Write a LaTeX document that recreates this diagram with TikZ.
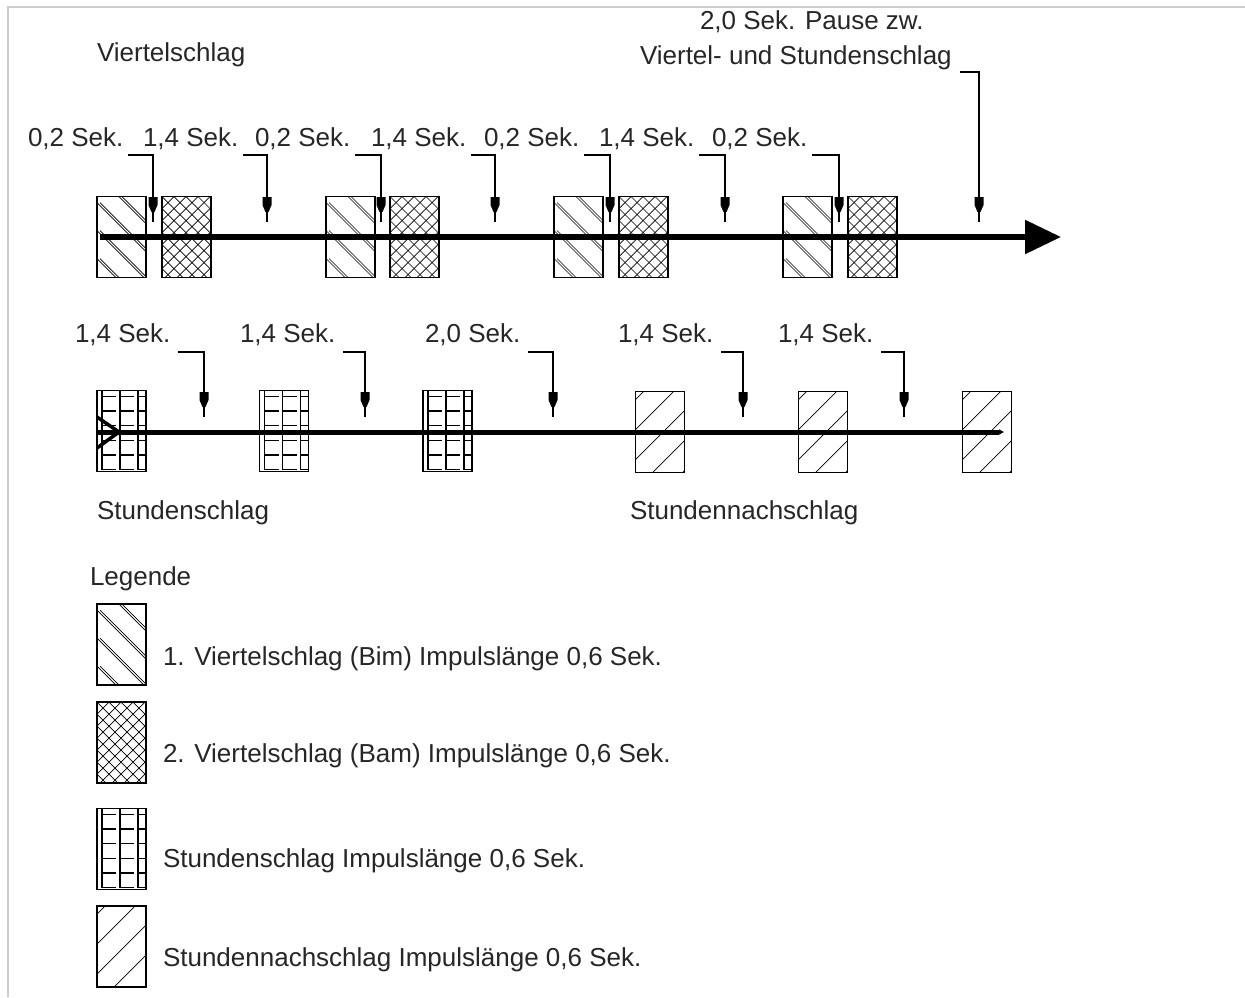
\documentclass[tikz,border=0pt]{standalone}
\usepackage{fontspec}
\setmainfont{Liberation Sans}
\usetikzlibrary{calc,arrows.meta}
\tikzset{
  pulse/.style={draw, line width=1.3pt, minimum width=49pt, minimum height=81pt, inner sep=0pt, outer sep=0pt},
  hl/.style={line width=0.7pt},
  bim/.style={pulse, path picture={
     \foreach \k in {-78,-50,...,90} {
       \draw[hl] ($(path picture bounding box.north west)+(0,\k)$) -- ++(100,100);
       \draw[hl] ($(path picture bounding box.north west)+(3,\k)$) -- ++(100,100);
     }}},
  bam/.style={pulse, path picture={
     \foreach \k in {-96,-84,...,144} {
       \draw[hl] ($(path picture bounding box.north west)+(\k,0)$) -- ++(100,100);
       \draw[hl] ($(path picture bounding box.north west)+(\k,0)$) -- ++(-100,100);
     }}},
  stdb/.style={pulse, path picture={
     \foreach \r in {0,...,5} \foreach \c in {0,1,2} {
       \draw[line width=1.3pt] ($(path picture bounding box.north west)+({5+18*\c},{-8.6+14.6*\r})$) -- ++(0,14.6) -- ++(14,0);
     }}},
  nach/.style={pulse, path picture={
     \foreach \k in {8,38,...,128} {
       \draw[hl] ($(path picture bounding box.north west)+(0,\k)$) -- ++(100,-100);
     }}},
  lab/.style={anchor=base west, inner sep=0pt, outer sep=0pt, font=\fontsize{26}{30}\selectfont, text=black!85},
  lead/.style={line width=1.5pt},
  mk/.pic={\fill (-4.5,-25) -- (4.5,-25) -- (4.5,-17) -- (1.5,-10) -- (-1.5,-10) -- (-4.5,-17) -- cycle;}
}
\begin{document}
\begin{tikzpicture}[x=1pt,y=-1pt]
\useasboundingbox (0,0) rectangle (1245,997);
\draw[black!20, line width=2pt] (8,997) -- (8,7) -- (1245,7);

% row 1 boxes
\node[bim] (bim1) at (121.5,237) {};
\node[bam] (bam1) at (186.5,237) {};
\node[bim] (bim2) at (350.5,237) {};
\node[bam] (bam2) at (414.5,237) {};
\node[bim] (bim3) at (578.5,237) {};
\node[bam] (bam3) at (643.5,237) {};
\node[bim] (bim4) at (807.5,237) {};
\node[bam] (bam4) at (872.5,237) {};

% row 1 axis
\coordinate (s1) at (100,237);
\coordinate (e1) at (1061,237);
\draw[line width=5.5pt, -{Triangle[length=36pt,width=33pt]}] (s1) -- (e1);

% row 2 boxes
\node[stdb] (std1) at (121.5,431) {};
\node[stdb] (std2) at (284,431) {};
\node[stdb] (std3) at (447.5,431) {};
\node[nach] (nach1) at (660,432) {};
\node[nach] (nach2) at (823,432) {};
\node[nach] (nach3) at (987,432) {};

% row 2 axis
\coordinate (s2) at (97,432);
\coordinate (e2) at (1004,432);
\draw[line width=5pt, -{Triangle[length=5pt,width=5pt]}] (s2) -- (e2);
\draw[line width=3.5pt] ($(s2)+(0,-15)$) -- ($(s2)+(22,0)$) -- ($(s2)+(0,16)$);

% row 1 labels and leaders
\node[lab] (q1) at (28,146) {0,2 Sek.};
\node[lab] (q2) at (143,146) {1,4 Sek.};
\node[lab] (q3) at (255,146) {0,2 Sek.};
\node[lab] (q4) at (371,146) {1,4 Sek.};
\node[lab] (q5) at (484,146) {0,2 Sek.};
\node[lab] (q6) at (599,146) {1,4 Sek.};
\node[lab] (q7) at (712,146) {0,2 Sek.};
\coordinate (v1) at (153,222);
\coordinate (v2) at (267,222);
\coordinate (v3) at (381,222);
\coordinate (v4) at (495,222);
\coordinate (v5) at (610,222);
\coordinate (v6) at (725,222);
\coordinate (v7) at (839,222);
\foreach \i in {1,...,7} {
  \draw[lead] ($(q\i.base east)+(5,9)$) -| (v\i);
  \pic at (v\i) {mk};
}
\node[lab] (p1) at (700,29) {2,0 Sek. Pause zw.};
\node[lab] (p2) at (640,64) {Viertel- und Stundenschlag};
\coordinate (v8) at (979,222);
\draw[lead] ($(p2.base east)+(8,8)$) -| (v8);
\pic at (v8) {mk};

% row 2 labels and leaders
\node[lab] (r1) at (75,342) {1,4 Sek.};
\node[lab] (r2) at (240,342) {1,4 Sek.};
\node[lab] (r3) at (425,342) {2,0 Sek.};
\node[lab] (r4) at (618,342) {1,4 Sek.};
\node[lab] (r5) at (778,342) {1,4 Sek.};
\coordinate (w1) at (204,417);
\coordinate (w2) at (365,417);
\coordinate (w3) at (553,417);
\coordinate (w4) at (743,417);
\coordinate (w5) at (904,417);
\foreach \i in {1,...,5} {
  \draw[lead] ($(r\i.base east)+(8,10)$) -| (w\i);
  \pic at (w\i) {mk};
}

% titles
\node[lab] (t1) at (97,61) {Viertelschlag};
\node[lab] (t2) at (97,519) {Stundenschlag};
\node[lab] (t3) at (630,519) {Stundennachschlag};
\node[lab] (t4) at (90,585) {Legende};

% legend
\node[bim] (lbim) at (121.5,644.5) {};
\node[bam] (lbam) at (121.5,742.5) {};
\node[stdb] (lstd) at (121.5,849) {};
\node[nach] (lnach) at (121.5,946.5) {};
\node[lab] (g1) at (163,665) {1. Viertelschlag (Bim) Impulslänge 0,6 Sek.};
\node[lab] (g2) at (163,762) {2. Viertelschlag (Bam) Impulslänge 0,6 Sek.};
\node[lab] (g3) at (163,867) {Stundenschlag Impulslänge 0,6 Sek.};
\node[lab] (g4) at (163,966) {Stundennachschlag Impulslänge 0,6 Sek.};
\end{tikzpicture}
\end{document}
